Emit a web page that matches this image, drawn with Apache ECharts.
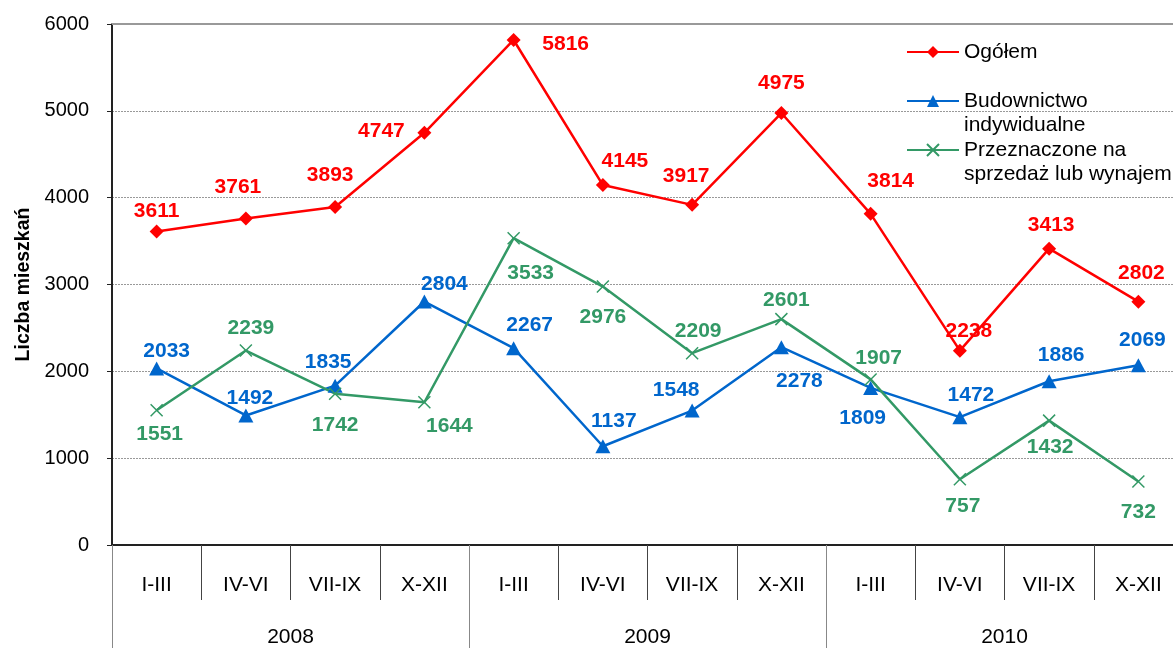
<!DOCTYPE html>
<html>
<head>
<meta charset="utf-8">
<script src="https://cdn.jsdelivr.net/npm/echarts@6/dist/echarts.min.js"></script>
<style>
  html, body { margin: 0; padding: 0; background: #ffffff; }
  #chart { width: 1173px; height: 648px; }
</style>
</head>
<body>
<div id="chart"></div>
<script>
// Quarters within each year and the years themselves
const quarters = ['I-III', 'IV-VI', 'VII-IX', 'X-XII'];
const years = ['2008', '2009', '2010'];

// Number of dwellings per quarter
const ogolem = [3611, 3761, 3893, 4747, 5816, 4145, 3917, 4975, 3814, 2238, 3413, 2802];
const budownictwo = [2033, 1492, 1835, 2804, 2267, 1137, 1548, 2278, 1809, 1472, 1886, 2069];
const sprzedaz = [1551, 2239, 1742, 1644, 3533, 2976, 2209, 2601, 1907, 757, 1432, 732];

// Value axis ticks
const yMin = 0, yMax = 6000, yStep = 1000;

// Series names
const names = ['Ogółem', 'Budownictwo\nindywidualne', 'Przeznaczone na\nsprzedaż lub wynajem'];

// Label placement (pixel offset from each point)
const redOffsets = [[0,-20],[-8,-31],[-5,-32],[-43,-2],[52,4],[22,-24],[-6,-29],[0,-30],[20,-33],[9,-19],[2,-23],[3,-28]];
const blueOffsets = [[10,-17],[4,-17],[-7,-23],[20,-17],[16,-23],[11,-25],[-16,-20],[18,34],[-8,30],[11,-22],[12,-26],[4,-25]];
const greenOffsets = [[3,24],[5,-22],[0,31],[25,24],[17,35],[0,31],[6,-22],[5,-19],[8,-21],[3,27],[1,27],[0,31]];

const categories = years.flatMap(() => quarters);

const FONT = '"Liberation Sans", Arial, sans-serif';
const RED = '#FF0000', BLUE = '#0066CC', GREEN = '#339966';

function withLabels(values, offsets) {
  return values.map((v, i) => ({
    value: v,
    label: { offset: offsets[i] }
  }));
}

function lineSeries(name, values, offsets, color, symbol, symbolSize, extraItemStyle) {
  return {
    name: name,
    type: 'line',
    xAxisIndex: 0,
    data: withLabels(values, offsets),
    symbol: symbol,
    symbolSize: symbolSize,
    showSymbol: true,
    showAllSymbol: true,
    lineStyle: { color: color, width: 2.5 },
    itemStyle: Object.assign({ color: color }, extraItemStyle || {}),
    label: {
      show: true,
      position: 'inside',
      color: color,
      fontFamily: FONT,
      fontWeight: 'bold',
      fontSize: 21
    },
    emphasis: { disabled: true },
    z: 3
  };
}

// Multi-line legend entries keep their icon level with the first line:
// a blank line on top balances the extra line below.
const legendBase = {
  orient: 'vertical',
  left: 906,
  padding: 0,
  itemWidth: 52,
  itemHeight: 15,
  itemGap: 0,
  selectedMode: false,
  formatter: name => (name.indexOf('\n') >= 0 ? '\n' + name : name),
  textStyle: { fontFamily: FONT, fontSize: 21, color: '#000', lineHeight: 24.5 }
};

const option = {
  animation: false,
  backgroundColor: '#ffffff',
  // the last quarter runs past the right edge of the page
  grid: { left: 112, width: 1071, top: 24, bottom: 103, outerBoundsMode: 'none', containLabel: false },
  legend: [
    Object.assign({}, legendBase, { top: 39.75, data: [names[0]] }),
    Object.assign({}, legendBase, { top: 64.25, data: [names[1]] }),
    Object.assign({}, legendBase, { top: 113.25, data: [names[2]] })
  ],
  xAxis: [
    {
      type: 'category',
      position: 'bottom',
      data: categories,
      boundaryGap: true,
      axisLine: { show: true, lineStyle: { color: '#222', width: 2 } },
      axisTick: { show: true, length: 55, lineStyle: { color: '#444', width: 1 } },
      axisLabel: { interval: 0, margin: 30, fontFamily: FONT, fontSize: 21, color: '#000' },
      splitLine: { show: false }
    },
    {
      type: 'category',
      position: 'bottom',
      data: years,
      boundaryGap: true,
      axisLine: { show: false },
      axisTick: { show: true, length: 110, lineStyle: { color: '#888', width: 1 } },
      axisLabel: { interval: 0, margin: 82, fontFamily: FONT, fontSize: 21, color: '#000' },
      splitLine: { show: false }
    },
    {
      type: 'category',
      position: 'top',
      data: categories,
      axisLine: { show: true, lineStyle: { color: '#999', width: 2 } },
      axisTick: { show: false },
      axisLabel: { show: false },
      splitLine: { show: false }
    }
  ],
  yAxis: {
    type: 'value',
    min: yMin,
    max: yMax,
    interval: yStep,
    name: 'Liczba mieszkań',
    nameLocation: 'middle',
    nameGap: 77,
    nameTextStyle: { fontFamily: FONT, fontSize: 19.5, fontWeight: 'bold', color: '#000' },
    axisLine: { show: true, lineStyle: { color: '#222', width: 2 } },
    axisTick: { show: true, length: 5, lineStyle: { color: '#222', width: 1 } },
    axisLabel: { margin: 23, fontFamily: FONT, fontSize: 20, color: '#000', formatter: v => String(v) },
    splitLine: { show: true, lineStyle: { color: '#999', width: 1, type: [2, 1] } }
  },
  series: [
    lineSeries(names[0], ogolem, redOffsets, RED, 'diamond', 14),
    lineSeries(names[1], budownictwo, blueOffsets, BLUE, 'triangle', [15, 14]),
    lineSeries(names[2], sprzedaz, greenOffsets, GREEN, 'path://M0,0L10,10M0,10L10,0', 12,
      { borderColor: GREEN, borderWidth: 1.5 })
  ]
};

const chart = echarts.init(document.getElementById('chart'), null, { renderer: 'canvas' });
chart.setOption(option);
</script>
</body>
</html>
